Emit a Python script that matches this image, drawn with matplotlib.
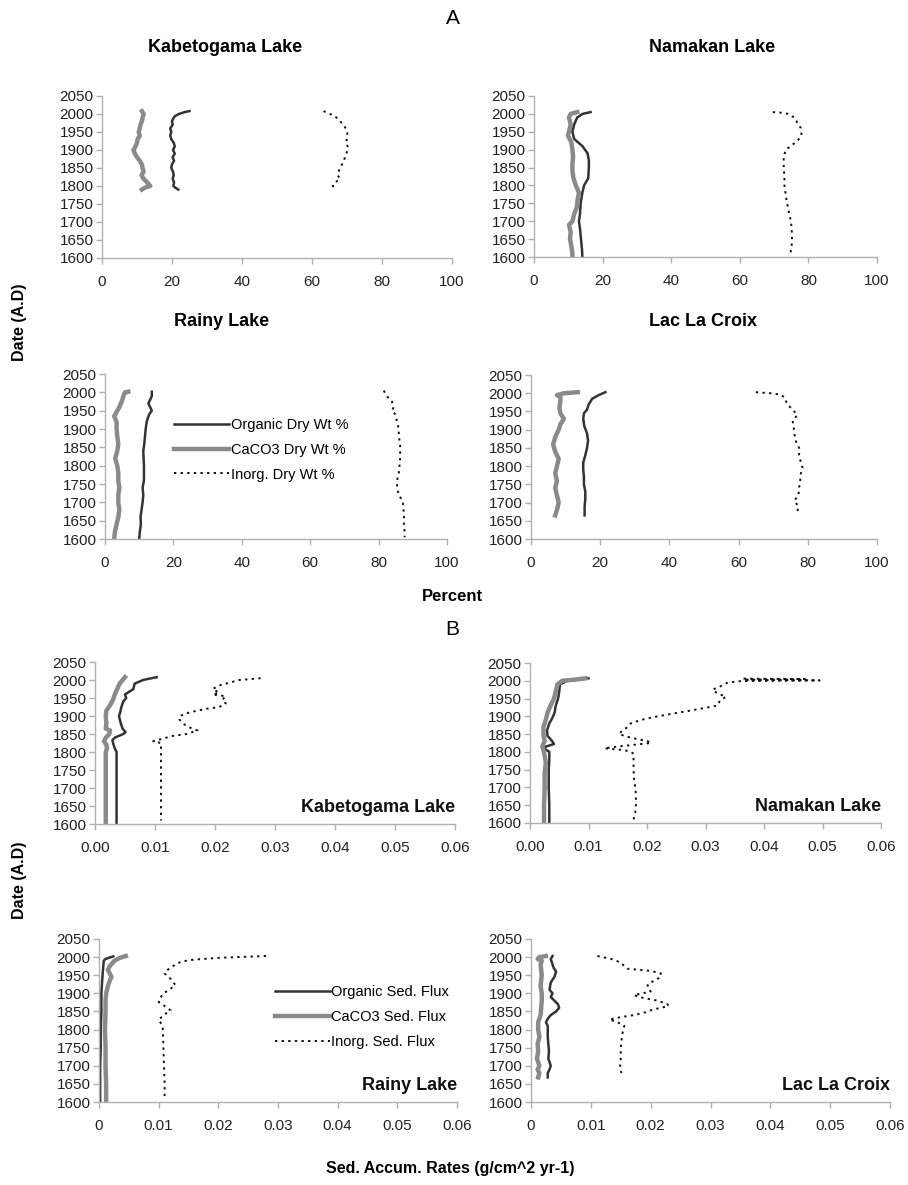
import matplotlib
matplotlib.use('Agg')
import matplotlib.pyplot as plt
import numpy as np

#---------------------DATA------------------------
# A - dry weight percent
kab_org_yr = [2008, 2005, 2000, 1995, 1990, 1980, 1970, 1960, 1950, 1940, 1930, 1920, 1910, 1900, 1890, 1880, 1870, 1860, 1850, 1840, 1830, 1820, 1810, 1800, 1795, 1790]
kab_org = [25, 23.5, 22, 21, 20.5, 20, 20.2, 19.5, 19.8, 19.5, 19.8, 20.5, 20.8, 20.3, 20.8, 20.2, 20.6, 20, 19.8, 20.3, 20.5, 20.2, 20.6, 20.4, 21, 21.8]
kab_cac_yr = [2008, 2000, 1990, 1980, 1970, 1960, 1950, 1940, 1930, 1920, 1910, 1900, 1890, 1880, 1870, 1860, 1850, 1840, 1830, 1820, 1810, 1800, 1795, 1790]
kab_cac = [11.4, 11.9, 11.6, 11.4, 11, 10.8, 10.5, 10.8, 10.2, 10, 9.6, 9, 9.4, 10, 10.8, 11.4, 11.6, 11.9, 11.3, 11.9, 12.9, 13.8, 12.2, 11.4]
kab_ino_yr = [2008, 2000, 1990, 1980, 1970, 1960, 1950, 1940, 1930, 1920, 1910, 1900, 1890, 1880, 1870, 1860, 1850, 1840, 1830, 1820, 1810, 1800, 1795]
kab_ino = [63.3, 65.2, 67, 68, 69, 69.6, 70, 70.2, 70, 69.6, 70.2, 70.2, 69.8, 69.5, 69, 68.6, 68, 67.6, 67.3, 68, 66.7, 65.9, 66.7]

nam_org_yr = [2005, 2000, 1990, 1970, 1950, 1930, 1910, 1890, 1870, 1850, 1820, 1800, 1780, 1750, 1720, 1700, 1680, 1660, 1640, 1620, 1600]
nam_org = [16.5, 14.2, 12.6, 11.7, 11.2, 11.7, 14.1, 15.6, 16, 16, 15.8, 14.6, 14.1, 13.6, 13.4, 13.1, 13.4, 13.6, 13.8, 14, 14.1]
nam_cac_yr = [2005, 2000, 1990, 1970, 1950, 1940, 1920, 1900, 1880, 1860, 1840, 1820, 1800, 1780, 1760, 1740, 1720, 1700, 1690, 1670, 1650, 1630, 1610, 1600]
nam_cac = [12.6, 10.7, 10.2, 10.7, 10.2, 9.9, 10.9, 11.2, 11.4, 11.2, 11.2, 11.5, 12.2, 13.1, 12.7, 12.5, 11.7, 11.2, 10.2, 10.7, 10.5, 10.9, 11.2, 11.2]
nam_ino_yr = [2005, 2003, 2000, 1990, 1975, 1960, 1940, 1925, 1910, 1900, 1880, 1850, 1820, 1800, 1780, 1760, 1740, 1720, 1700, 1680, 1660, 1640, 1620, 1605]
nam_ino = [69.6, 72.5, 74, 75.9, 76.8, 77.8, 78, 76.8, 74.9, 73.4, 72.8, 72.8, 73, 73, 73.3, 73.6, 74, 74.4, 74.9, 75.1, 75.2, 75.2, 74.9, 74.7]

rai_org_yr = [2002, 1990, 1970, 1950, 1940, 1920, 1900, 1880, 1860, 1840, 1800, 1760, 1740, 1720, 1700, 1680, 1660, 1640, 1620, 1600]
rai_org = [13.7, 13.7, 12.7, 13.7, 12.9, 12.2, 11.9, 11.7, 11.5, 11.2, 11.4, 11.4, 11, 11.2, 11, 10.7, 10.4, 10.5, 10.2, 10]
rai_cac_yr = [2002, 2000, 1990, 1975, 1960, 1950, 1935, 1920, 1900, 1880, 1860, 1840, 1820, 1800, 1780, 1760, 1740, 1720, 1700, 1680, 1660, 1640, 1620, 1600]
rai_cac = [6.8, 5.8, 5.4, 4.9, 4.2, 3.6, 2.7, 3.4, 3.4, 3.6, 3.9, 3.6, 3.0, 3.6, 3.9, 3.9, 4.2, 3.9, 3.9, 4.2, 3.9, 3.4, 2.9, 2.7]
rai_ino_yr = [2005, 1990, 1975, 1960, 1950, 1940, 1920, 1900, 1880, 1860, 1840, 1820, 1800, 1780, 1760, 1740, 1720, 1710, 1700, 1680, 1660, 1640, 1620, 1605]
rai_ino = [81.5, 82.4, 83.9, 84.4, 83.9, 84.9, 85.4, 85.9, 85.9, 86.3, 86.3, 86.3, 86.1, 85.9, 85.4, 85.4, 85.9, 86.6, 87.1, 87.3, 87.4, 87.4, 87.6, 87.6]

llc_org_yr = [2003, 1995, 1985, 1970, 1955, 1945, 1930, 1910, 1890, 1870, 1850, 1830, 1810, 1790, 1770, 1750, 1730, 1710, 1690, 1670, 1665]
llc_org = [21.5, 19.6, 17.7, 16.7, 16.2, 15.3, 15.1, 15.4, 16.2, 16.5, 16.2, 15.7, 15.1, 15.1, 15.3, 15.3, 15.7, 15.7, 15.5, 15.5, 15.5]
llc_cac_yr = [2003, 2000, 1995, 1990, 1980, 1960, 1945, 1930, 1915, 1900, 1880, 1860, 1840, 1820, 1800, 1780, 1760, 1740, 1720, 1700, 1680, 1665]
llc_cac = [13.5, 9.5, 7.5, 8.5, 8.5, 8.2, 8.5, 9.5, 8.5, 8, 7, 6.4, 7, 8, 7.5, 7, 7.5, 7, 7.5, 8, 7.5, 7]
llc_ino_yr = [2003, 2000, 1997, 1990, 1970, 1950, 1940, 1925, 1910, 1890, 1870, 1850, 1830, 1810, 1795, 1780, 1760, 1740, 1720, 1705, 1690, 1680, 1668]
llc_ino = [65, 69.3, 71.7, 73.2, 74.1, 76.1, 77, 75.6, 75.9, 76.1, 76.5, 77.5, 77.5, 78, 78.5, 78, 77.8, 77.5, 77.3, 76.1, 77.3, 77.1, 77]

# B - sediment flux
kabf_org_yr = [2008, 2003, 2000, 1990, 1975, 1960, 1950, 1940, 1925, 1910, 1900, 1880, 1865, 1855, 1850, 1840, 1833, 1820, 1810, 1800, 1600]
kabf_org = [0.0103, 0.0088, 0.008, 0.0066, 0.0064, 0.005, 0.0052, 0.0047, 0.0044, 0.0042, 0.004, 0.0043, 0.0046, 0.0051, 0.0047, 0.0033, 0.0029, 0.0031, 0.0033, 0.0036, 0.0036]
kabf_cac_yr = [2008, 2000, 1990, 1975, 1960, 1945, 1930, 1915, 1900, 1880, 1865, 1860, 1850, 1840, 1830, 1820, 1810, 1800, 1790, 1600]
kabf_cac = [0.005, 0.0046, 0.0041, 0.0037, 0.0033, 0.003, 0.0025, 0.0019, 0.0018, 0.0019, 0.0018, 0.0025, 0.0024, 0.0018, 0.0015, 0.0019, 0.002, 0.0018, 0.0018, 0.0018]
kabf_ino_yr = [2005, 2000, 1995, 1985, 1975, 1965, 1960, 1955, 1945, 1935, 1925, 1920, 1910, 1900, 1890, 1880, 1870, 1860, 1850, 1845, 1835, 1830, 1825, 1610]
kabf_ino = [0.0276, 0.024, 0.0229, 0.0207, 0.0196, 0.0207, 0.0196, 0.0218, 0.0212, 0.0218, 0.0207, 0.0185, 0.0157, 0.0141, 0.0141, 0.0146, 0.0155, 0.0171, 0.0152, 0.013, 0.0108, 0.0097, 0.011, 0.011]

namf_org_yr = [2007, 2003, 2000, 1990, 1970, 1950, 1930, 1910, 1895, 1880, 1860, 1845, 1830, 1822, 1815, 1810, 1800, 1780, 1750, 1700, 1650, 1600]
namf_org = [0.01, 0.0081, 0.0064, 0.0051, 0.005, 0.0048, 0.0044, 0.0042, 0.0038, 0.0033, 0.0029, 0.003, 0.0038, 0.0041, 0.0027, 0.0024, 0.0033, 0.0033, 0.0032, 0.0032, 0.0033, 0.0033]
namf_cac_yr = [2007, 2003, 2000, 1990, 1970, 1950, 1930, 1910, 1890, 1870, 1850, 1830, 1815, 1805, 1790, 1770, 1740, 1700, 1650, 1600]
namf_cac = [0.0095, 0.0075, 0.0055, 0.0047, 0.0044, 0.0041, 0.0035, 0.003, 0.0027, 0.0023, 0.0023, 0.0025, 0.0021, 0.0023, 0.0025, 0.0027, 0.0025, 0.0025, 0.0024, 0.0024]
namf_ino_yr = [2006, 2005, 2003, 2001, 1999, 1995, 1985, 1975, 1965, 1955, 1945, 1930, 1915, 1900, 1890, 1880, 1870, 1860, 1850, 1840, 1830, 1825, 1820, 1815, 1810, 1805, 1800, 1795, 1780, 1750, 1720, 1700, 1680, 1650, 1630, 1610]
namf_ino = [0.0365, 0.047, 0.0365, 0.0495, 0.036, 0.0338, 0.0326, 0.0312, 0.032, 0.0335, 0.0325, 0.032, 0.027, 0.0218, 0.019, 0.0172, 0.0167, 0.0158, 0.0152, 0.0172, 0.0201, 0.0207, 0.0178, 0.015, 0.0127, 0.0161, 0.0172, 0.0177, 0.0177, 0.0177, 0.0178, 0.018, 0.0181, 0.0181, 0.018, 0.0177]

raif_org_yr = [2002, 1995, 1990, 1970, 1950, 1900, 1850, 1800, 1750, 1700, 1650, 1600]
raif_org = [0.0024, 0.0011, 0.0008, 0.0007, 0.0006, 0.0004, 0.0004, 0.0003, 0.0003, 0.0002, 0.0002, 0.0002]
raif_cac_yr = [2003, 1998, 1990, 1975, 1965, 1955, 1945, 1935, 1920, 1900, 1880, 1850, 1800, 1750, 1700, 1650, 1600]
raif_cac = [0.0045, 0.0035, 0.0026, 0.0018, 0.0015, 0.0018, 0.0021, 0.0018, 0.0015, 0.0012, 0.0011, 0.0011, 0.001, 0.0011, 0.0011, 0.0012, 0.0012]
raif_ino_yr = [2003, 1998, 1993, 1988, 1980, 1972, 1962, 1955, 1940, 1923, 1910, 1900, 1888, 1876, 1865, 1853, 1840, 1826, 1815, 1803, 1750, 1700, 1650, 1612]
raif_ino = [0.028, 0.02, 0.0159, 0.0139, 0.0128, 0.0122, 0.0112, 0.011, 0.012, 0.0128, 0.0118, 0.0108, 0.0103, 0.01, 0.011, 0.012, 0.0108, 0.01, 0.0105, 0.0107, 0.0108, 0.0109, 0.011, 0.011]

llcf_org_yr = [2003, 1995, 1980, 1970, 1960, 1945, 1930, 1910, 1900, 1890, 1880, 1870, 1860, 1850, 1840, 1830, 1820, 1810, 1800, 1780, 1760, 1740, 1720, 1700, 1690, 1680, 1668]
llcf_org = [0.0036, 0.0033, 0.0036, 0.0038, 0.0042, 0.0039, 0.0033, 0.0031, 0.0036, 0.0033, 0.0039, 0.0045, 0.0047, 0.0042, 0.0033, 0.0028, 0.0025, 0.0028, 0.0028, 0.0028, 0.0029, 0.003, 0.0029, 0.0033, 0.0031, 0.0028, 0.0028]
llcf_cac_yr = [2003, 2000, 1995, 1990, 1980, 1965, 1950, 1935, 1920, 1900, 1880, 1860, 1840, 1820, 1800, 1780, 1760, 1740, 1720, 1700, 1690, 1680, 1668]
llcf_cac = [0.0025, 0.0014, 0.0011, 0.0018, 0.0016, 0.0017, 0.0018, 0.0017, 0.0016, 0.0018, 0.0018, 0.0017, 0.0016, 0.0012, 0.0012, 0.0014, 0.0011, 0.0012, 0.001, 0.0014, 0.0011, 0.0014, 0.0012]
llcf_ino_yr = [2003, 1995, 1985, 1975, 1968, 1962, 1955, 1945, 1935, 1925, 1915, 1905, 1895, 1888, 1880, 1870, 1865, 1855, 1848, 1840, 1835, 1828, 1820, 1810, 1800, 1780, 1750, 1720, 1700, 1680]
llcf_ino = [0.0111, 0.0134, 0.015, 0.0156, 0.0161, 0.02, 0.0217, 0.0217, 0.0206, 0.0195, 0.0195, 0.02, 0.0172, 0.0186, 0.0211, 0.0228, 0.023, 0.0203, 0.0192, 0.0172, 0.0152, 0.0131, 0.0145, 0.0156, 0.0154, 0.0152, 0.015, 0.015, 0.0149, 0.0151]

year_ticks = [1600, 1650, 1700, 1750, 1800, 1850, 1900, 1950, 2000, 2050]
pct_ticks = [0, 20, 40, 60, 80, 100]
flux_ticks = [0, 0.01, 0.02, 0.03, 0.04, 0.05, 0.06]
flux_labels_2dp = ['0.00', '0.01', '0.02', '0.03', '0.04', '0.05', '0.06']
flux_labels_gen = ['0', '0.01', '0.02', '0.03', '0.04', '0.05', '0.06']

#---------------------STYLE------------------------
plt.rcParams['font.family'] = ['Liberation Sans', 'DejaVu Sans']
narrow = ['Liberation Sans Narrow', 'Liberation Sans', 'DejaVu Sans']
ORG_C = '#333333'
CAC_C = '#8a8a8a'
INO_C = '#111111'
AX_C = '#b0b0b0'


def panel(rect, org_yr, org, cac_yr, cac, ino_yr, ino, xmax, xticks, xlabels):
    ax = fig.add_axes(rect)
    l1, = ax.plot(org, org_yr, color=ORG_C, lw=1.8, solid_joinstyle='round')
    l2, = ax.plot(cac, cac_yr, color=CAC_C, lw=3.2, solid_joinstyle='round')
    l3, = ax.plot(ino, ino_yr, color=INO_C, lw=1.4, linestyle=(0, (1.2, 2.2)))
    ax.set_xlim(0, xmax)
    ax.set_ylim(1600, 2050)
    ax.set_yticks(year_ticks)
    ax.set_xticks(xticks)
    ax.set_xticklabels(xlabels)
    for s in ['top', 'right']:
        ax.spines[s].set_visible(False)
    for s in ['left', 'bottom']:
        ax.spines[s].set_color(AX_C)
        ax.spines[s].set_linewidth(1.0)
    ax.tick_params(axis='both', direction='out', length=4, width=1, color=AX_C,
                   labelsize=11, labelcolor='#222222')
    ax.tick_params(axis='x', pad=8)
    ax.tick_params(axis='y', pad=2)
    ax.patch.set_alpha(0)
    return ax, (l1, l2, l3)


fig = plt.figure(figsize=(9.08, 11.85), dpi=100)

#-----------------------------------------------A panels------------------------------
ax1, _ = panel([0.1123, 0.7823, 0.3855, 0.1367], kab_org_yr, kab_org, kab_cac_yr, kab_cac, kab_ino_yr, kab_ino,
               100, pct_ticks, [str(t) for t in pct_ticks])
ax2, _ = panel([0.5881, 0.7831, 0.3778, 0.1359], nam_org_yr, nam_org, nam_cac_yr, nam_cac, nam_ino_yr, nam_ino,
               100, pct_ticks, [str(t) for t in pct_ticks])
ax3, lines_a = panel([0.1156, 0.5451, 0.3767, 0.1392], rai_org_yr, rai_org, rai_cac_yr, rai_cac, rai_ino_yr, rai_ino,
                     100, pct_ticks, [str(t) for t in pct_ticks])
ax4, _ = panel([0.5848, 0.5451, 0.3810, 0.1384], llc_org_yr, llc_org, llc_cac_yr, llc_cac, llc_ino_yr, llc_ino,
               100, pct_ticks, [str(t) for t in pct_ticks])

ax3.legend(lines_a, ['Organic Dry Wt %', 'CaCO3 Dry Wt %', 'Inorg. Dry Wt %'],
           loc='upper left', bbox_to_anchor=(0.18, 0.78), frameon=False, fontsize=10.5,
           handlelength=3.8, handletextpad=0.1, labelspacing=0.75, borderpad=0)

#-----------------------------------------------B panels------------------------------
ax5, _ = panel([0.1046, 0.3046, 0.3965, 0.1367], kabf_org_yr, kabf_org, kabf_cac_yr, kabf_cac, kabf_ino_yr, kabf_ino,
               0.06, flux_ticks, flux_labels_2dp)
ax6, _ = panel([0.5837, 0.3055, 0.3866, 0.1350], namf_org_yr, namf_org, namf_cac_yr, namf_cac, namf_ino_yr, namf_ino,
               0.06, flux_ticks, flux_labels_2dp)
ax7, lines_b = panel([0.1090, 0.0700, 0.3943, 0.1376], raif_org_yr, raif_org, raif_cac_yr, raif_cac, raif_ino_yr, raif_ino,
                     0.06, flux_ticks, flux_labels_gen)
ax8, _ = panel([0.5848, 0.0700, 0.3954, 0.1376], llcf_org_yr, llcf_org, llcf_cac_yr, llcf_cac, llcf_ino_yr, llcf_ino,
               0.06, flux_ticks, flux_labels_gen)

ax7.legend(lines_b, ['Organic Sed. Flux', 'CaCO3 Sed. Flux', 'Inorg. Sed. Flux'],
           loc='upper left', bbox_to_anchor=(0.47, 0.76), frameon=False, fontsize=10.5,
           handlelength=3.8, handletextpad=0.1, labelspacing=0.75, borderpad=0)

for ax, name in [(ax5, 'Kabetogama Lake'), (ax6, 'Namakan Lake'), (ax7, 'Rainy Lake'), (ax8, 'Lac La Croix')]:
    ax.text(1.0, 0.1, name, transform=ax.transAxes, ha='right', va='center',
            fontsize=13, fontweight='bold', color='#111111')

#-----------------------------------------------Figure text------------------------------
fig.text(453 / 908, 1 - 18 / 1185, 'A', ha='center', va='center', fontsize=15, family=narrow)
fig.text(225 / 908, 1 - 48 / 1185, 'Kabetogama Lake', ha='center', va='center', fontsize=13, fontweight='bold', family=narrow)
fig.text(712 / 908, 1 - 47 / 1185, 'Namakan Lake', ha='center', va='center', fontsize=13, fontweight='bold', family=narrow)
fig.text(222 / 908, 1 - 322 / 1185, 'Rainy Lake', ha='center', va='center', fontsize=13, fontweight='bold', family=narrow)
fig.text(703 / 908, 1 - 322 / 1185, 'Lac La Croix', ha='center', va='center', fontsize=13, fontweight='bold', family=narrow)
fig.text(20 / 908, 1 - 322 / 1185, 'Date (A.D)', ha='center', va='center', rotation=90, fontsize=11.5, fontweight='bold')
fig.text(452 / 908, 1 - 596 / 1185, 'Percent', ha='center', va='center', fontsize=12, fontweight='bold', family=narrow)
fig.text(452 / 908, 1 - 630 / 1185, 'B', ha='center', va='center', fontsize=15, family=narrow)
fig.text(20 / 908, 1 - 880 / 1185, 'Date (A.D)', ha='center', va='center', rotation=90, fontsize=11.5, fontweight='bold')
fig.text(450 / 908, 1 - 1168 / 1185, 'Sed. Accum. Rates (g/cm^2 yr-1)', ha='center', va='center', fontsize=11.5, fontweight='bold')

fig.savefig('out.png', dpi=100, facecolor='white')
